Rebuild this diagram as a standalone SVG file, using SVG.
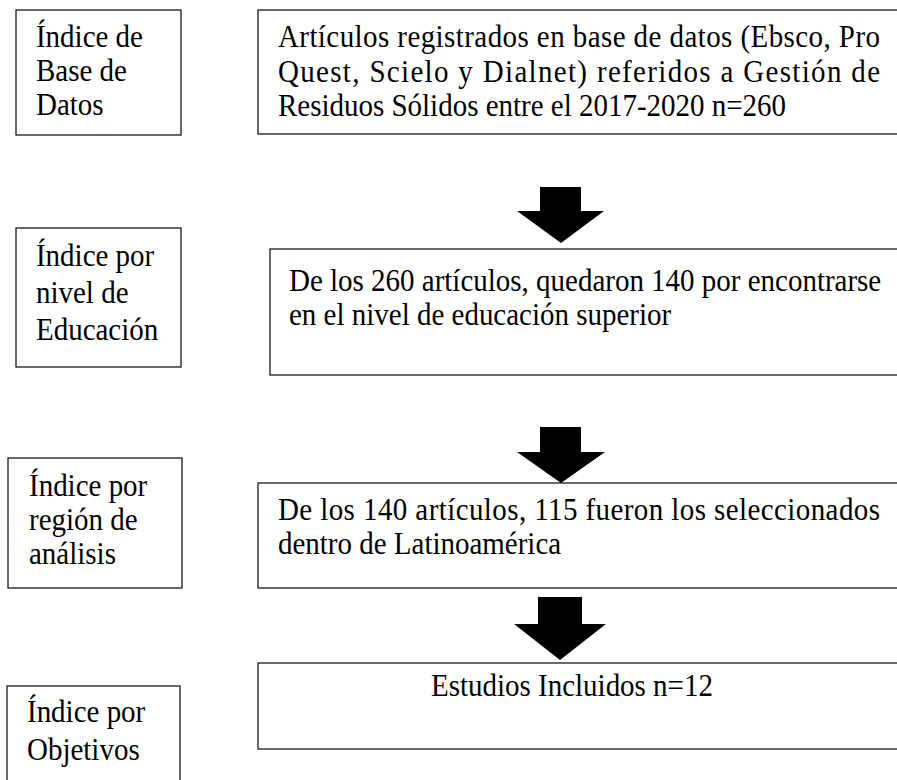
<svg xmlns="http://www.w3.org/2000/svg" width="897" height="780" viewBox="0 0 897 780">
<style>
.box{fill:#fff;stroke:#1a1a1a;stroke-width:1.3}
.t{font-family:"Liberation Serif","Times New Roman",serif;font-size:32px;fill:#000}
.arrow{fill:#000}
</style>
<rect width="897" height="780" fill="#fff"/>
<g id="idx1">
<rect class="box" x="16" y="10" width="165" height="125"/>
<g transform="scale(0.906 1)">
<text class="t" x="39.7" y="47">Índice de</text>
<text class="t" x="39.7" y="81">Base de</text>
<text class="t" x="39.7" y="115">Datos</text>
</g>
</g>
<g id="idx2">
<rect class="box" x="16" y="228" width="165" height="139"/>
<g transform="scale(0.906 1)">
<text class="t" x="39.7" y="266">Índice por</text>
<text class="t" x="39.7" y="303">nivel de</text>
<text class="t" x="39.7" y="340">Educación</text>
</g>
</g>
<g id="idx3">
<rect class="box" x="8" y="458" width="174" height="130"/>
<g transform="scale(0.906 1)">
<text class="t" x="32" y="496">Índice por</text>
<text class="t" x="32" y="530">región de</text>
<text class="t" x="32" y="564">análisis</text>
</g>
</g>
<g id="idx4">
<rect class="box" x="7" y="686" width="173" height="110"/>
<g transform="scale(0.906 1)">
<text class="t" x="29.8" y="722">Índice por</text>
<text class="t" x="29.8" y="760">Objetivos</text>
</g>
</g>
<g id="stepA">
<rect class="box" x="258" y="10" width="660" height="124"/>
<g transform="scale(0.906 1)">
<text class="t" x="306.8" y="47" textLength="664.5" lengthAdjust="spacing">Artículos registrados en base de datos (Ebsco, Pro</text>
<text class="t" x="306.8" y="82" textLength="664.5" lengthAdjust="spacing">Quest, Scielo y Dialnet) referidos a Gestión de</text>
<text class="t" x="306.8" y="116">Residuos Sólidos entre el 2017-2020 n=260</text>
</g>
</g>
<g id="stepB">
<rect class="box" x="270" y="249" width="660" height="126"/>
<g transform="scale(0.906 1)">
<text class="t" x="319" y="291">De los 260 artículos, quedaron 140 por encontrarse</text>
<text class="t" x="319" y="325">en el nivel de educación superior</text>
</g>
</g>
<g id="stepC">
<rect class="box" x="258" y="483" width="660" height="105"/>
<g transform="scale(0.906 1)">
<text class="t" x="306.8" y="520" textLength="664.5" lengthAdjust="spacing">De los 140 artículos, 115 fueron los seleccionados</text>
<text class="t" x="306.8" y="554">dentro de Latinoamérica</text>
</g>
</g>
<g id="stepD">
<rect class="box" x="258" y="663" width="660" height="86"/>
<g transform="scale(0.906 1)">
<text class="t" x="631.3" y="696" text-anchor="middle">Estudios Incluidos n=12</text>
</g>
</g>
<g id="connectors">
<polygon class="arrow" points="540,187 581,187 581,211 604,211 561,243 517,211 540,211"/>
<polygon class="arrow" points="540,427 581,427 581,452 605,452 561,483 517,452 540,452"/>
<polygon class="arrow" points="538,597 582,597 582,624 606,624 560,660 514,624 538,624"/>
</g>
</svg>
